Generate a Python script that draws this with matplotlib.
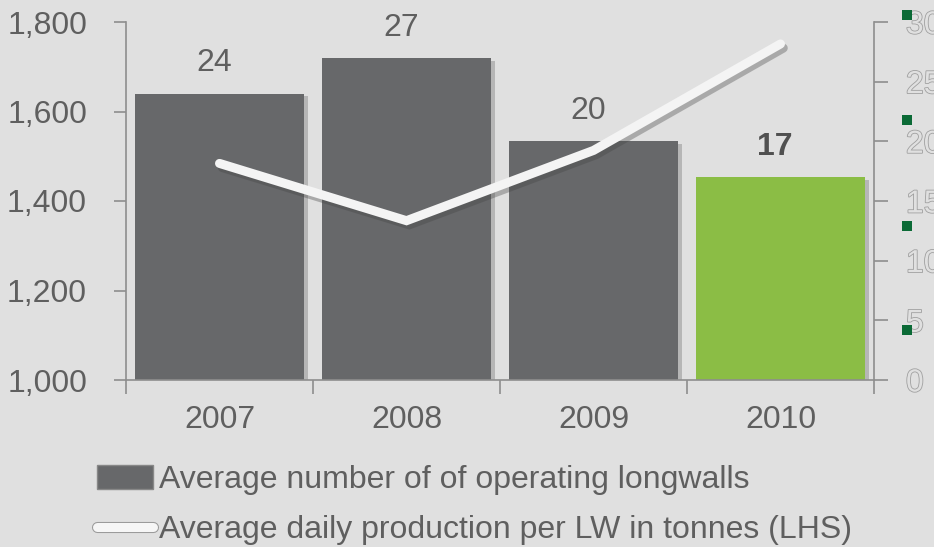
import numpy as np
import matplotlib
matplotlib.use('Agg')
import matplotlib.pyplot as plt
import matplotlib.patheffects as pe
from matplotlib.patches import Patch
from matplotlib.lines import Line2D
import matplotlib.transforms as mtransforms

plt.rcParams['font.family'] = ['Liberation Sans', 'DejaVu Sans']

years = ['2007', '2008', '2009', '2010']
longwalls = [24, 27, 20, 17]            # right axis (bars)
daily_prod = [1484, 1356, 1513, 1751]   # left axis (line, tonnes)
marker_vals = [30.6, 21.8, 12.9, 4.2]   # stray legend squares on the right axis

bg = '#e0e0e0'
bar_grey = '#67686a'
green = '#8bbd45'
txt = '#5f5f5f'
spine_c = '#8e8e8e'
fs = 23

fig = plt.figure(figsize=(9.34, 5.47), dpi=100, facecolor=bg)
ax = fig.add_axes([126/934, 1 - 380/547, 748/934, 358/547])
ax.set_facecolor(bg)
ax2 = ax.twinx()

x = np.arange(len(years))
colors = [bar_grey, bar_grey, bar_grey, green]
bars = ax2.bar(x, longwalls, width=0.9, color=colors, zorder=2)
for b in bars:
    b.set_path_effects([pe.SimplePatchShadow(offset=(3, -2), alpha=0.3, shadow_rgbFace='#555555'), pe.Normal()])

for i, v in enumerate(longwalls):
    bold = (i == len(longwalls) - 1)
    ax2.annotate(str(v), (x[i] - 0.03, v), xytext=(0, 11), textcoords='offset points',
                 ha='center', va='bottom', fontsize=fs,
                 color='#505050' if bold else txt,
                 fontweight='bold' if bold else 'normal')

# line drawn on left axis but above bars
ax.set_zorder(ax2.get_zorder() + 1)
ax.patch.set_visible(False)
ax2.patch.set_visible(False)
ln, = ax.plot(x, daily_prod, color='#f4f4f4', lw=6.5, solid_capstyle='round',
              solid_joinstyle='miter', zorder=3)
ln.set_path_effects([pe.SimpleLineShadow(offset=(2, -3), alpha=0.35, shadow_color='#444444'), pe.Normal()])

ax.set_xlim(-0.5, 3.5)
ax.set_ylim(1000, 1800)
ax.set_yticks([1000, 1200, 1400, 1600, 1800])
ax.set_yticklabels(['1,000', '1,200', '1,400', '1,600', '1,800'])
ax2.set_ylim(0, 30)
ax2.set_yticks([0, 5, 10, 15, 20, 25, 30])

ax.set_xticks(x)
ax.set_xticklabels(years)
ax.set_xticks(np.arange(-0.5, 4.0, 1.0), minor=True)
ax.tick_params(axis='x', which='major', length=0, pad=18, labelsize=fs, labelcolor=txt)
ax.tick_params(axis='x', which='minor', length=10, direction='out', color=spine_c, width=1.2)
ax.tick_params(axis='y', length=9, width=1.2, color=spine_c, pad=19, labelsize=fs, labelcolor=txt)
ax2.tick_params(axis='y', length=10, width=1.2, color=spine_c, pad=13, labelsize=fs, labelcolor=bg)

for lab in ax2.get_yticklabels():
    lab.set_path_effects([pe.Stroke(linewidth=1.2, foreground='#a0a0a0'), pe.Normal()])

for a in (ax, ax2):
    a.spines['top'].set_visible(False)
    for s in ('left', 'right', 'bottom'):
        a.spines[s].set_color(spine_c)
        a.spines[s].set_linewidth(1.2)
ax.spines['right'].set_visible(False)
ax2.spines['left'].set_visible(False)
ax2.spines['bottom'].set_visible(False)

# small dark green squares next to the right axis labels
trans = mtransforms.blended_transform_factory(ax2.transAxes, ax2.transData)
ax2.scatter([1.044] * len(marker_vals), marker_vals, marker='s', s=55, color='#0b6a36',
            transform=trans, clip_on=False, zorder=5, linewidths=0)

# legend
h1 = Patch(facecolor=bar_grey, edgecolor='#888888')
h2 = Line2D([0], [0], color='#f6f6f6', lw=6.5, solid_capstyle='round',
            path_effects=[pe.Stroke(linewidth=8, foreground='#9a9a9a'), pe.Normal()])
fig.legend([h1, h2], ['Average number of of operating longwalls',
                      'Average daily production per LW in tonnes (LHS)'],
           loc='upper left', bbox_to_anchor=(97/934, 1 - 465/547), frameon=False,
           fontsize=fs, labelcolor=txt, handlelength=1.75, handleheight=0.8,
           handletextpad=0.2, labelspacing=0.62, borderaxespad=0, borderpad=0)

fig.savefig('out.png', dpi=100, facecolor=bg)
